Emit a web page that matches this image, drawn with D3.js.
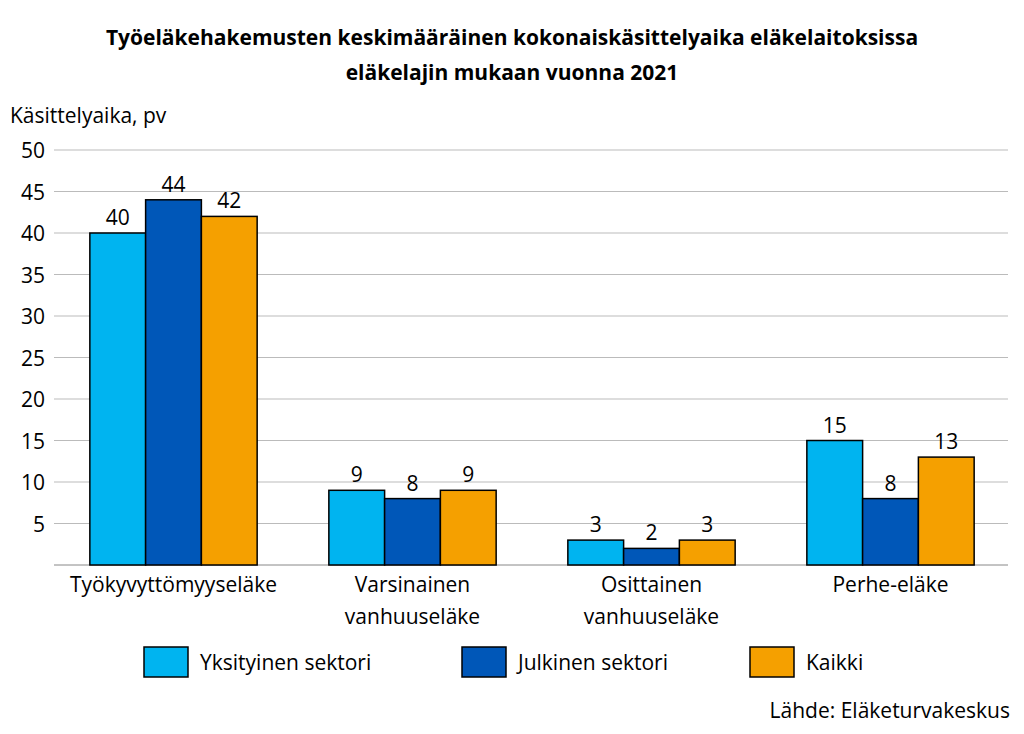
<!DOCTYPE html>
<html><head><meta charset="utf-8">
<script src="https://cdn.jsdelivr.net/npm/d3@7"></script>
<style>body{margin:0;background:#fff}text{font-family:"Open Sans","Noto Sans",sans-serif;fill:#000}</style>
</head><body><svg id="chart" width="1024" height="734"></svg>
<script>
const categories = [["Työkyvyttömyyseläke"], ["Varsinainen", "vanhuuseläke"], ["Osittainen", "vanhuuseläke"], ["Perhe-eläke"]];
const seriesNames = ["Yksityinen sektori", "Julkinen sektori", "Kaikki"];
const seriesColors = ["#00b4f0", "#0057b8", "#f5a000"];
const yksityinen = [40, 9, 3, 15];
const julkinen = [44, 8, 2, 8];
const kaikki = [42, 9, 3, 13];
const yTicks = [5, 10, 15, 20, 25, 30, 35, 40, 45, 50];

const svg = d3.select("#chart");
const values = [yksityinen, julkinen, kaikki];

const x0 = d3.scaleBand().domain(d3.range(categories.length)).range([54, 1010]).paddingInner(0.3).paddingOuter(0.15);
const x1 = d3.scaleBand().domain(d3.range(3)).range([0, x0.bandwidth()]);
const y = d3.scaleLinear().domain([0, 50]).range([565, 150]);

// title
svg.append("text").attr("x", 512).attr("y", 45).attr("text-anchor", "middle")
  .attr("font-size", 21).attr("font-weight", "bold")
  .text("Työeläkehakemusten keskimääräinen kokonaiskäsittelyaika eläkelaitoksissa");
svg.append("text").attr("x", 512).attr("y", 80).attr("text-anchor", "middle")
  .attr("font-size", 21).attr("font-weight", "bold").text("eläkelajin mukaan vuonna 2021");
svg.append("text").attr("x", 10).attr("y", 123).attr("font-size", 21).text("Käsittelyaika, pv");

// grid
svg.append("g").selectAll("line").data(yTicks).join("line")
  .attr("x1", 54).attr("x2", 1008).attr("y1", d => y(d)).attr("y2", d => y(d))
  .attr("stroke", "#bbb").attr("stroke-width", 1);
svg.append("g").selectAll("text").data(yTicks).join("text")
  .attr("x", 45).attr("y", d => y(d) + 8).attr("text-anchor", "end").attr("font-size", 21).text(d => d);
svg.append("line").attr("x1", 54).attr("x2", 1008).attr("y1", y(0)).attr("y2", y(0)).attr("stroke", "#888");

// bars
values.forEach((vals, s) => {
  const g = svg.append("g");
  g.selectAll("rect").data(vals).join("rect")
    .attr("x", (d, i) => x0(i) + x1(s)).attr("y", d => y(d))
    .attr("width", x1.bandwidth()).attr("height", d => y(0) - y(d))
    .attr("fill", seriesColors[s]).attr("stroke", "#000").attr("stroke-width", 1.5);
  g.selectAll("text").data(vals).join("text")
    .attr("x", (d, i) => x0(i) + x1(s) + x1.bandwidth() / 2).attr("y", d => y(d) - 8)
    .attr("text-anchor", "middle").attr("font-size", 21).text(d => d);
});

// category labels
categories.forEach((lines, i) => {
  lines.forEach((l, j) => {
    svg.append("text").attr("x", x0(i) + x0.bandwidth() / 2).attr("y", 592 + j * 32)
      .attr("text-anchor", "middle").attr("font-size", 21).text(l);
  });
});

// legend
const legendX = [144, 462, 750];
seriesNames.forEach((n, i) => {
  svg.append("rect").attr("x", legendX[i]).attr("y", 647).attr("width", 44).attr("height", 30)
    .attr("fill", seriesColors[i]).attr("stroke", "#000").attr("stroke-width", 1.5);
  svg.append("text").attr("x", legendX[i] + 56).attr("y", 670).attr("font-size", 21).text(n);
});

svg.append("text").attr("x", 1010).attr("y", 718).attr("text-anchor", "end").attr("font-size", 21).text("Lähde: Eläketurvakeskus");
</script></body></html>
